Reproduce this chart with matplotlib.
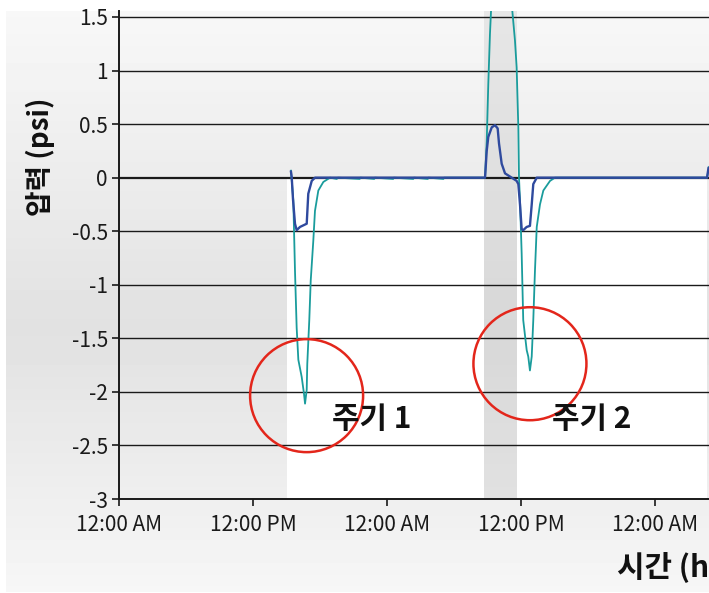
import numpy as np
import matplotlib
matplotlib.use("Agg")
import matplotlib.pyplot as plt
from matplotlib.patches import Ellipse

plt.rcParams['font.family'] = ['Noto Sans CJK KR', 'DejaVu Sans']

# hours since first midnight, pressure in psi
teal_t = [15.40, 15.61, 15.76, 15.91, 16.06, 16.36, 16.57, 16.66, 16.81, 16.86, 17.04,
          17.17, 17.40, 17.55, 17.85, 18.30, 18.90,
          19.50, 19.60, 21.55, 21.62, 22.85, 22.92, 24.55, 24.62,
          26.35, 26.42, 27.65, 27.72, 29.05, 29.12,
          32.78, 32.93, 33.07, 33.22, 33.38, 34.20, 35.10, 35.46, 35.61, 35.76, 35.82,
          35.91, 36.06, 36.20, 36.51, 36.65, 36.80, 36.96, 37.10, 37.25, 37.41, 37.70,
          38.00, 38.60, 39.04, 52.66, 52.75, 52.84]
teal_v = [0.065, -0.21, -0.87, -1.40, -1.70, -1.86, -2.02, -2.11, -1.98, -1.74, -1.33,
          -0.96, -0.59, -0.31, -0.12, -0.04, 0.0,
          -0.012, 0.0, -0.012, 0.0, -0.012, 0.0, -0.012, 0.0,
          -0.012, 0.0, -0.012, 0.0, -0.012, 0.0,
          0.0, 0.34, 0.87, 1.34, 1.70, 2.50, 1.70, 1.28, 1.03, 0.47, 0.0,
          -0.21, -0.71, -1.33, -1.61, -1.67, -1.80, -1.67, -1.33, -0.87, -0.46, -0.25,
          -0.12, -0.03, 0.0, 0.0, 0.05, 0.10]

blue_t = [15.40, 15.47, 15.58, 15.76, 15.91, 16.21, 16.81, 16.95, 17.26, 17.55,
          32.78, 32.93, 33.07, 33.38, 33.67, 33.91, 34.03, 34.27, 34.57, 35.17,
          35.61, 35.76, 35.91, 36.06, 36.20, 36.51, 36.80, 36.96, 37.10, 37.41,
          52.66, 52.79]
blue_v = [0.056, 0.0, -0.20, -0.43, -0.49, -0.46, -0.43, -0.15, -0.03, 0.0,
          0.0, 0.25, 0.38, 0.47, 0.49, 0.46, 0.32, 0.13, 0.04, 0.0,
          -0.03, -0.06, -0.25, -0.48, -0.49, -0.46, -0.45, -0.25, -0.06, 0.0,
          0.0, 0.09]

x_ticks = [0, 12, 24, 36, 48]
x_labels = ["12:00 AM", "12:00 PM", "12:00 AM", "12:00 PM", "12:00 AM"]
y_ticks = [-3, -2.5, -2, -1.5, -1, -0.5, 0, 0.5, 1, 1.5]
y_labels = ["-3", "-2.5", "-2", "-1.5", "-1", "-0.5", "0", "0.5", "1", "1.5"]

white_spans = [(15.0, 32.7), (35.6, 52.65)]
gray_span = (32.7, 35.6)

cycles = ["주기 1", "주기 2"]
cycle_label_pos = [(22.6, -2.25), (42.3, -2.25)]
circle_pos = [(16.8, -2.035), (36.8, -1.737)]

W, H = 709, 593
fig = plt.figure(figsize=(W / 100, H / 100), dpi=100, facecolor="white")

# gradient background
bg = fig.add_axes([6 / W, 1 / H, 703 / W, 581 / H], zorder=0)
g = np.concatenate([np.linspace(0.97, 0.885, 55), np.linspace(0.885, 0.965, 45)])
bg.imshow(g[:, None], aspect="auto", cmap="gray", vmin=0, vmax=1,
          extent=[0, 1, 0, 1], origin="upper")
bg.axis("off")

ax = fig.add_axes([119 / W, 94 / H, (W - 119) / W, 488 / H], zorder=1)
ax.patch.set_alpha(0)
ax.set_xlim(0, (W - 119) * 12 / 134)
ax.set_ylim(-3, 1.556)

for a, b in white_spans:
    ax.fill_between([a, b], -3, 0, color="white", lw=0, zorder=0)
ax.axvspan(*gray_span, color="#c8c8c8", alpha=0.35, lw=0, zorder=0)

for yt in y_ticks:
    ax.axhline(yt, color="#1a1a1a", lw=1.6 if yt == 0 else 1.0, zorder=1)

ax.plot(teal_t, teal_v, color="#1a9c9c", lw=1.3, zorder=3)
ax.plot(blue_t, blue_v, color="#2f4a9e", lw=1.7, zorder=4)

for (cx, cy) in circle_pos:
    ax.add_patch(Ellipse((cx, cy), 113 * 12 / 134, 113 / 107.1, fill=False,
                         ec="#e3261b", lw=1.8, zorder=5))
for txt, (tx, ty) in zip(cycles, cycle_label_pos):
    ax.text(tx, ty, txt, fontsize=21.5, fontweight="bold", ha="center", va="center",
            color="#111111", zorder=6)

ax.set_xticks(x_ticks)
ax.set_xticklabels(x_labels)
ax.set_yticks(y_ticks)
ax.set_yticklabels(y_labels)
ax.tick_params(labelsize=15, colors="#1a1a1a", length=5, width=1.2, pad=3)
ax.tick_params(axis="x", pad=6)
for s in ["top", "right"]:
    ax.spines[s].set_visible(False)
for s in ["left", "bottom"]:
    ax.spines[s].set_linewidth(1.4)
    ax.spines[s].set_color("#1a1a1a")

fig.text(40 / W, 1 - 157 / H, "압력 (psi)", rotation=90, fontsize=20, fontweight="bold",
         ha="center", va="center", color="#111111")
fig.text(W / W, 1 - 567 / H, "시간 (h", fontsize=21.5, fontweight="bold",
         ha="right", va="center", color="#111111")

fig.savefig("out.png", dpi=100, facecolor="white")
